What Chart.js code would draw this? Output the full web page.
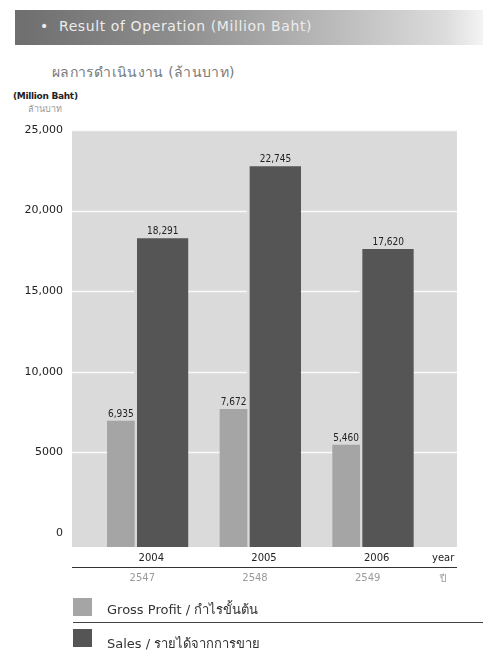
<!DOCTYPE html>
<html>
<head>
<meta charset="utf-8">
<script src="https://cdn.jsdelivr.net/npm/chart.js@4/dist/chart.umd.min.js"></script>
<style>
  body { margin: 0; background: #fff; width: 483px; height: 653px; overflow: hidden; position: relative; font-family: "DejaVu Sans", sans-serif; }
  .abs { position: absolute; white-space: nowrap; }
  #band { left: 15px; top: 10px; width: 468px; height: 35px; background: linear-gradient(to right, #6e6e6e 0%, #8e8e8e 35%, #bdbdbd 70%, #dcdcdc 92%, #f4f4f4 100%); }
  #title { left: 40px; top: 18px; font-size: 14px; color: #ececec; letter-spacing: 0.6px; }
  #subtitle { left: 52px; top: 61px; font-size: 14px; color: #7a7a7a; letter-spacing: 0.3px; }
  #unitEn { left: 13px; top: 91px; font-size: 9px; font-weight: bold; color: #222; letter-spacing: -0.3px; }
  #unitTh { left: 28px; top: 102px; font-size: 9px; color: #9a9a9a; }
  #yearEn { left: 432px; top: 552px; font-size: 10px; color: #222; }
  #yearTh { left: 440px; top: 571px; font-size: 10px; color: #999; }
  .sw { width: 19px; height: 18px; }
  .lg { font-size: 13px; color: #333; }
  #legendLine { left: 73px; top: 622px; width: 410px; height: 1px; background: #444; }
  canvas { position: absolute; left: 0; top: 0; }
</style>
</head>
<body>
<div class="abs" id="band"></div>
<div class="abs" id="title">•&nbsp;&nbsp;Result of Operation (Million Baht)</div>
<div class="abs" id="subtitle">ผลการดำเนินงาน (ล้านบาท)</div>
<div class="abs" id="unitEn">(Million Baht)</div>
<div class="abs" id="unitTh">ล้านบาท</div>
<canvas id="chart" width="483" height="600"></canvas>
<div class="abs" id="yearEn">year</div>
<div class="abs" id="yearTh">ปี</div>
<div class="abs sw" style="left:73px; top:598px; background:#a5a5a5;"></div>
<div class="abs lg" style="left:107px; top:599px;">Gross Profit / กำไรขั้นต้น</div>
<div class="abs" id="legendLine"></div>
<div class="abs sw" style="left:73px; top:629px; background:#555;"></div>
<div class="abs lg" style="left:107px; top:633px;">Sales / รายได้จากการขาย</div>
<script>
// data
const years = ['2004', '2005', '2006'];
const thaiYears = ['2547', '2548', '2549'];
const grossProfit = [6935, 7672, 5460];
const sales = [18291, 22745, 17620];
const yTicks = [0, 5000, 10000, 15000, 20000, 25000];
const yTickLabels = ['0', '5000', '10,000', '15,000', '20,000', '25,000'];

const plotBg = '#dadada';

// light grey panel behind the bars, a bit wider than the chart area
const panelPlugin = {
  id: 'panel',
  beforeDatasetsDraw(chart) {
    const { ctx, chartArea } = chart;
    const y = chart.scales.y;
    const left = chartArea.left - 6, right = chartArea.right + 41;
    ctx.save();
    ctx.fillStyle = plotBg;
    ctx.fillRect(left, chartArea.top, right - left, chartArea.bottom - chartArea.top);
    ctx.strokeStyle = 'rgba(255,255,255,0.85)';
    ctx.lineWidth = 1.5;
    yTicks.forEach(v => {
      if (v === 0) return;
      const py = Math.round(y.getPixelForValue(v)) + 0.5;
      ctx.beginPath();
      ctx.moveTo(left, py);
      ctx.lineTo(right, py);
      ctx.stroke();
    });
    // dark rule between the two year rows
    const x2 = chart.scales.x2;
    ctx.strokeStyle = '#333';
    ctx.lineWidth = 1.2;
    ctx.beginPath();
    ctx.moveTo(left, x2.top + 0.5);
    ctx.lineTo(right, x2.top + 0.5);
    ctx.stroke();
    ctx.restore();
  },
  afterDatasetsDraw(chart) {
    const { ctx } = chart;
    ctx.save();
    ctx.font = '10px "DejaVu Sans Condensed", "DejaVu Sans", sans-serif';
    ctx.fillStyle = '#222';
    ctx.textAlign = 'center';
    ctx.textBaseline = 'bottom';
    chart.data.datasets.forEach((ds, i) => {
      chart.getDatasetMeta(i).data.forEach((bar, j) => {
        const cx = i === 1 ? bar.x + 1.5 : bar.x;
        ctx.fillText(ds.data[j].toLocaleString('en-US'), cx, bar.y - 2);
      });
    });
    ctx.restore();
  }
};

new Chart(document.getElementById('chart'), {
  type: 'bar',
  data: {
    labels: years,
    datasets: [
      {
        label: 'Gross Profit',
        data: grossProfit,
        backgroundColor: '#a5a5a5',
        barThickness: 27,
        base: -870
      },
      {
        label: 'Sales',
        data: sales,
        backgroundColor: '#555555',
        borderColor: plotBg,
        borderWidth: { left: 3, right: 0, top: 0, bottom: 0 },
        borderSkipped: false,
        barThickness: 54,
        base: -870
      }
    ]
  },
  options: {
    responsive: false,
    animation: false,
    layout: { padding: { top: 130, right: 67, bottom: 13, left: 0 } },
    plugins: { legend: { display: false }, tooltip: { enabled: false } },
    scales: {
      x: {
        grid: { display: false, drawTicks: false },
        border: { display: false },
        ticks: { color: '#222', font: { size: 10, family: '"DejaVu Sans", sans-serif' }, padding: 5, labelOffset: 17 },
        afterFit(s) { s.height = 20; }
      },
      x2: {
        type: 'category',
        position: 'bottom',
        labels: thaiYears,
        grid: { display: false, drawTicks: false },
        border: { display: false },
        ticks: { color: '#9a9a9a', font: { size: 10, family: '"DejaVu Sans", sans-serif' }, padding: 5, labelOffset: 8 },
        afterFit(s) { s.height = 20; }
      },
      y: {
        min: -870,
        max: 25000,
        grid: { display: false, drawTicks: false },
        border: { display: false },
        afterBuildTicks(s) { s.ticks = yTicks.map(v => ({ value: v })); },
        afterFit(s) { s.width = 78; },
        ticks: {
          color: '#222',
          padding: 15,
          font: { size: 11, family: '"DejaVu Sans", sans-serif' },
          callback: v => yTickLabels[yTicks.indexOf(v)]
        }
      }
    }
  },
  plugins: [panelPlugin]
});
</script>
</body>
</html>
